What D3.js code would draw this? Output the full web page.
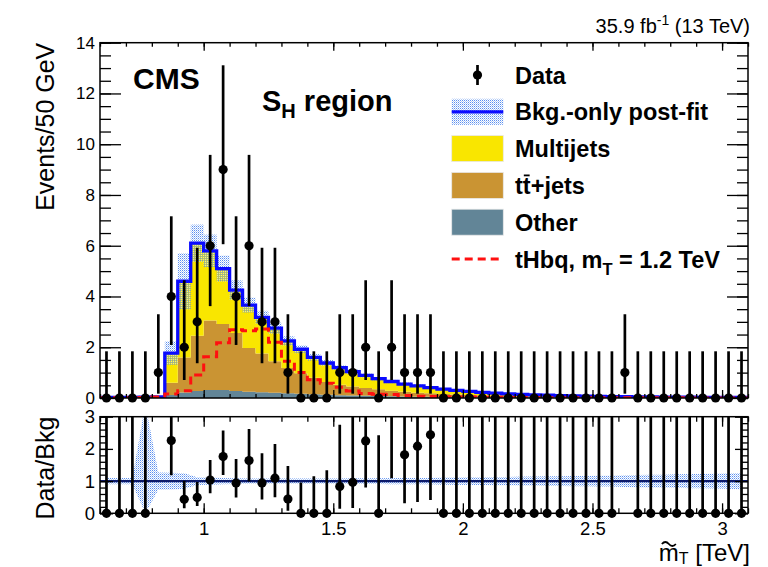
<!DOCTYPE html>
<html>
<head>
<meta charset="utf-8">
<script src="https://cdnjs.cloudflare.com/ajax/libs/d3/7.8.5/d3.min.js"></script>
<style>
body { margin: 0; background: #fff; }
svg { font-family: 'Liberation Sans', Arial, Helvetica, sans-serif; }
</style>
</head>
<body>
<svg width="768" height="567"></svg>
<script>
// bin centres (TeV), 50 GeV bins
var binCenters = [0.625, 0.675, 0.725, 0.775, 0.825, 0.875, 0.925, 0.975, 1.025, 1.075,
	1.125, 1.175, 1.225, 1.275, 1.325, 1.375, 1.425, 1.475, 1.525, 1.575,
	1.625, 1.675, 1.725, 1.775, 1.825, 1.875, 1.925, 1.975, 2.025, 2.075,
	2.125, 2.175, 2.225, 2.275, 2.325, 2.375, 2.425, 2.475, 2.525, 2.575,
	2.625, 2.675, 2.725, 2.775, 2.825, 2.875, 2.925, 2.975, 3.025, 3.075];

var dataCounts = [0, 0, 0, 0, 1, 4, 2, 3, 6, 9,
	4, 6, 3, 3, 1, 0, 0, 0, 1, 1,
	2, 0, 2, 1, 1, 1, 0, 0, 0, 0,
	0, 0, 0, 0, 0, 0, 0, 0, 0, 0,
	1, 0, 0, 0, 0, 0, 0, 0, 0, 0];

var otherBkg = [0.004, 0.004, 0.004, 0.005, 0.006, 0.12, 0.22, 0.28, 0.32, 0.32,
	0.28, 0.25, 0.23, 0.21, 0.19, 0.17, 0.15, 0.13, 0.11, 0.10,
	0.09, 0.08, 0.07, 0.06, 0.05, 0.045, 0.04, 0.035, 0.03, 0.027,
	0.024, 0.021, 0.018, 0.016, 0.014, 0.012, 0.011, 0.010, 0.009, 0.008,
	0.007, 0.006, 0.006, 0.005, 0.005, 0.004, 0.004, 0.004, 0.003, 0.003];

var ttbarBkg = [0.005, 0.005, 0.005, 0.006, 0.01, 0.48, 1.38, 2.17, 2.73, 2.6,
	2.28, 1.72, 1.52, 1.24, 0.99, 0.81, 0.65, 0.5, 0.41, 0.35,
	0.3, 0.26, 0.22, 0.19, 0.16, 0.14, 0.12, 0.1, 0.085, 0.072,
	0.062, 0.053, 0.046, 0.04, 0.035, 0.03, 0.027, 0.024, 0.021, 0.019,
	0.017, 0.015, 0.013, 0.012, 0.011, 0.01, 0.009, 0.008, 0.007, 0.006];

var multijetBkg = [0.011, 0.011, 0.011, 0.019, 0.024, 1.17, 3.0, 3.65, 2.75, 2.18,
	1.69, 1.69, 1.43, 1.3, 1.07, 0.94, 0.8, 0.75, 0.68, 0.59,
	0.5, 0.42, 0.36, 0.3, 0.27, 0.225, 0.19, 0.165, 0.145, 0.121,
	0.104, 0.091, 0.081, 0.069, 0.061, 0.053, 0.047, 0.041, 0.035, 0.031,
	0.028, 0.025, 0.022, 0.02, 0.017, 0.016, 0.014, 0.012, 0.012, 0.011];

// relative post-fit uncertainty of the total background
var bkgRelUnc = [0.1, 0.1, 0.1, 2.4, 0.27, 0.26, 0.24, 0.12, 0.11, 0.1,
	0.09, 0.08, 0.08, 0.08, 0.08, 0.08, 0.08, 0.08, 0.08, 0.09,
	0.09, 0.09, 0.1, 0.1, 0.1, 0.1, 0.11, 0.11, 0.12, 0.12,
	0.13, 0.13, 0.14, 0.14, 0.15, 0.15, 0.16, 0.16, 0.17, 0.17,
	0.18, 0.19, 0.2, 0.2, 0.21, 0.22, 0.22, 0.23, 0.24, 0.25];

var signalTHbq = [0.01, 0.01, 0.01, 0.02, 0.04, 0.16, 0.29, 0.91, 1.63, 2.18,
	2.69, 2.65, 2.72, 2.2, 1.45, 1.0, 0.72, 0.58, 0.42, 0.28,
	0.18, 0.15, 0.14, 0.1, 0.07, 0.06, 0.05, 0.04, 0.035, 0.03,
	0.026, 0.022, 0.019, 0.016, 0.014, 0.012, 0.011, 0.01, 0.009, 0.008,
	0.007, 0.006, 0.006, 0.005, 0.005, 0.004, 0.004, 0.004, 0.003, 0.003];

// Poisson (Garwood) 68% intervals, indexed by observed count
var poissonErrLo = [0, 0.83, 1.29, 1.63, 1.91, 2.16, 2.38, 2.58, 2.77, 2.94];
var poissonErrHi = [1.84, 2.30, 2.64, 2.92, 3.16, 3.38, 3.58, 3.77, 3.95, 4.11];

var xTickValues = [1, 1.5, 2, 2.5, 3];
var xTickLabels = ['1', '1.5', '2', '2.5', '3'];
var yMainTickValues = [0, 2, 4, 6, 8, 10, 12, 14];
var yRatioTickValues = [0, 1, 2, 3];
var legendLabels = ['Data', 'Bkg.-only post-fit', 'Multijets', 'tt+jets', 'Other', 'tHbq, m'];

var colors = {
	multijet: '#f9e600',
	ttbar: '#ca9433',
	other: '#628597',
	total: '#0a0aff',
	signal: '#ff1010'
};
var fontFamily = "'Liberation Sans', Arial, Helvetica, sans-serif";

var svg = d3.select('svg');
var defs = svg.append('defs');

// dotted fill used for the uncertainty band
var pat = defs.append('pattern')
	.attr('id', 'dots')
	.attr('width', 2)
	.attr('height', 2)
	.attr('patternUnits', 'userSpaceOnUse');
pat.append('rect').attr('x', 0).attr('y', 0).attr('width', 1).attr('height', 1).attr('fill', '#5a8ef0');
pat.append('rect').attr('x', 1).attr('y', 1).attr('width', 1).attr('height', 1).attr('fill', '#b3ccf6');

var left = 100, right = 748;
var mainTop = 42.7, mainBottom = 398;
var ratioTop = 416.7, ratioBottom = 513.3;

defs.append('clipPath').attr('id', 'clipMain').append('rect')
	.attr('x', left).attr('y', mainTop).attr('width', right - left).attr('height', mainBottom - mainTop);
defs.append('clipPath').attr('id', 'clipRatio').append('rect')
	.attr('x', left).attr('y', ratioTop).attr('width', right - left).attr('height', ratioBottom - ratioTop);

var x = d3.scaleLinear().domain([0.6, 3.1]).range([left, right]),
	yMain = d3.scaleLinear().domain([0, 14]).range([mainBottom, mainTop]),
	yRatio = d3.scaleLinear().domain([0, 3]).range([ratioBottom, ratioTop]);

var halfBin = (binCenters[1] - binCenters[0]) / 2;
var nBins = binCenters.length;

var rows = binCenters.map(function(c, i) {
	return { x: c, other: otherBkg[i], ttbar: ttbarBkg[i], multijet: multijetBkg[i] };
});
var totals = rows.map(function(d) {
	return d.other + d.ttbar + d.multijet;
});

// turn per-bin values into step points on the bin edges
function stepPoints(vals) {
	var pts = vals.map(function(v, i) {
		return { x: binCenters[i] - halfBin, v: v };
	});
	pts.push({ x: binCenters[nBins - 1] + halfBin, v: vals[nBins - 1] });
	return pts;
}

var gMain = svg.append('g').attr('clip-path', 'url(#clipMain)');

// stacked backgrounds
var series = d3.stack().keys(['other', 'ttbar', 'multijet'])(rows);
var stepArea = d3.area()
	.curve(d3.curveStepAfter)
	.x(function(d) { return x(d.x); })
	.y0(function(d) { return yMain(d.v[0]); })
	.y1(function(d) { return yMain(d.v[1]); });

series.forEach(function(s) {
	gMain.append('path')
		.datum(stepPoints(s.map(function(d) { return [d[0], d[1]]; })))
		.attr('fill', colors[s.key])
		.attr('d', stepArea);
});

// uncertainty band
gMain.selectAll('.band')
	.data(totals)
	.enter().append('rect')
	.attr('class', 'band')
	.attr('x', function(d, i) { return x(binCenters[i] - halfBin); })
	.attr('width', function(d, i) { return x(binCenters[i] + halfBin) - x(binCenters[i] - halfBin); })
	.attr('y', function(d, i) { return yMain(d * (1 + bkgRelUnc[i])); })
	.attr('height', function(d, i) {
		return yMain(Math.max(0, d * (1 - bkgRelUnc[i]))) - yMain(d * (1 + bkgRelUnc[i]));
	})
	.attr('fill', 'url(#dots)');

var stepLine = d3.line()
	.curve(d3.curveStepAfter)
	.x(function(d) { return x(d.x); })
	.y(function(d) { return yMain(d.v); });

gMain.append('path')
	.datum(stepPoints(totals))
	.attr('fill', 'none')
	.attr('stroke', colors.total)
	.attr('stroke-width', 3.3)
	.attr('d', stepLine);

gMain.append('path')
	.datum(stepPoints(signalTHbq))
	.attr('fill', 'none')
	.attr('stroke', colors.signal)
	.attr('stroke-width', 3)
	.attr('stroke-dasharray', '8,5')
	.attr('d', stepLine);

// data points
var gData = svg.append('g');
gData.selectAll('.err')
	.data(dataCounts)
	.enter().append('line')
	.attr('class', 'err')
	.attr('x1', function(d, i) { return x(binCenters[i]); })
	.attr('x2', function(d, i) { return x(binCenters[i]); })
	.attr('y1', function(d) { return yMain(d - poissonErrLo[d]); })
	.attr('y2', function(d) { return yMain(d + poissonErrHi[d]); })
	.attr('stroke', '#000')
	.attr('stroke-width', 2.7);
gData.selectAll('.pt')
	.data(dataCounts)
	.enter().append('circle')
	.attr('class', 'pt')
	.attr('cx', function(d, i) { return x(binCenters[i]); })
	.attr('cy', function(d) { return yMain(d); })
	.attr('r', 4.6)
	.attr('fill', '#000');

// ratio panel
var gRatio = svg.append('g').attr('clip-path', 'url(#clipRatio)');

var bandArea = d3.area()
	.x(function(d, i) { return x(binCenters[i]); })
	.y0(function(d) { return yRatio(Math.max(0, 1 - d)); })
	.y1(function(d) { return yRatio(1 + d); });

gRatio.append('path')
	.datum(bkgRelUnc)
	.attr('fill', 'url(#dots)')
	.attr('d', bandArea);

gRatio.append('line')
	.attr('x1', left).attr('x2', right)
	.attr('y1', yRatio(1)).attr('y2', yRatio(1))
	.attr('stroke', '#0c1a6a')
	.attr('stroke-width', 2.2);

var ratioPts = dataCounts.map(function(n, i) {
	var b = totals[i];
	return {
		x: binCenters[i],
		r: n / b,
		lo: (n - poissonErrLo[n]) / b,
		hi: (n + poissonErrHi[n]) / b
	};
});

gRatio.selectAll('.rerr')
	.data(ratioPts.filter(function(d) { return d.lo < 3; }))
	.enter().append('line')
	.attr('class', 'rerr')
	.attr('x1', function(d) { return x(d.x); })
	.attr('x2', function(d) { return x(d.x); })
	.attr('y1', function(d) { return yRatio(d.lo); })
	.attr('y2', function(d) { return yRatio(Math.min(d.hi, 3.2)); })
	.attr('stroke', '#000')
	.attr('stroke-width', 2.7);

svg.append('g').selectAll('.rpt')
	.data(ratioPts.filter(function(d) { return d.r <= 3; }))
	.enter().append('circle')
	.attr('class', 'rpt')
	.attr('cx', function(d) { return x(d.x); })
	.attr('cy', function(d) { return yRatio(d.r); })
	.attr('r', 4.6)
	.attr('fill', '#000');

// frames and ticks
function tickAxis(axis, transform) {
	var a = svg.append('g').attr('transform', transform).call(axis);
	a.select('.domain').remove();
	a.selectAll('line').attr('stroke', '#000').attr('stroke-width', 1.3);
	a.attr('font-family', fontFamily).attr('fill', '#000');
	a.selectAll('text').attr('fill', '#000');
	return a;
}

var xMinor = d3.range(0.6, 3.1001, 0.1);
var yMainMinor = d3.range(0, 14.001, 0.5);
var yRatioMinor = d3.range(0, 3.001, 0.2);

// main panel
tickAxis(d3.axisBottom(x).tickValues(xMinor).tickSize(-4).tickFormat(''), 'translate(0,' + mainBottom + ')');
tickAxis(d3.axisBottom(x).tickValues(xTickValues).tickSize(-8).tickFormat(''), 'translate(0,' + mainBottom + ')');
tickAxis(d3.axisTop(x).tickValues(xMinor).tickSize(-4).tickFormat(''), 'translate(0,' + mainTop + ')');
tickAxis(d3.axisTop(x).tickValues(xTickValues).tickSize(-8).tickFormat(''), 'translate(0,' + mainTop + ')');
tickAxis(d3.axisLeft(yMain).tickValues(yMainMinor).tickSize(-11).tickFormat(''), 'translate(' + left + ',0)');
tickAxis(d3.axisLeft(yMain).tickValues(yMainTickValues).tickSize(-21).tickPadding(5).tickFormat(d3.format('d')), 'translate(' + left + ',0)')
	.attr('font-size', 17);
tickAxis(d3.axisRight(yMain).tickValues(yMainMinor).tickSize(-11).tickFormat(''), 'translate(' + right + ',0)');
tickAxis(d3.axisRight(yMain).tickValues(yMainTickValues).tickSize(-21).tickFormat(''), 'translate(' + right + ',0)');

// ratio panel
tickAxis(d3.axisBottom(x).tickValues(xMinor).tickSize(-5).tickFormat(''), 'translate(0,' + ratioBottom + ')');
tickAxis(d3.axisBottom(x).tickValues(xTickValues).tickSize(-10).tickPadding(9)
	.tickFormat(function(d, i) { return xTickLabels[i]; }), 'translate(0,' + ratioBottom + ')')
	.attr('font-size', 18.5);
tickAxis(d3.axisTop(x).tickValues(xMinor).tickSize(-5).tickFormat(''), 'translate(0,' + ratioTop + ')');
tickAxis(d3.axisTop(x).tickValues(xTickValues).tickSize(-10).tickFormat(''), 'translate(0,' + ratioTop + ')');
tickAxis(d3.axisLeft(yRatio).tickValues(yRatioMinor).tickSize(-6).tickFormat(''), 'translate(' + left + ',0)');
tickAxis(d3.axisLeft(yRatio).tickValues(yRatioTickValues).tickSize(-13).tickPadding(5).tickFormat(d3.format('d')), 'translate(' + left + ',0)')
	.attr('font-size', 18.5);
tickAxis(d3.axisRight(yRatio).tickValues(yRatioMinor).tickSize(-6).tickFormat(''), 'translate(' + right + ',0)');
tickAxis(d3.axisRight(yRatio).tickValues(yRatioTickValues).tickSize(-13).tickFormat(''), 'translate(' + right + ',0)');

svg.append('rect')
	.attr('x', left).attr('y', mainTop)
	.attr('width', right - left).attr('height', mainBottom - mainTop)
	.attr('fill', 'none').attr('stroke', '#000').attr('stroke-width', 1.5);
svg.append('rect')
	.attr('x', left).attr('y', ratioTop)
	.attr('width', right - left).attr('height', ratioBottom - ratioTop)
	.attr('fill', 'none').attr('stroke', '#000').attr('stroke-width', 1.5);

// redraw points sitting on the main frame
gData.raise();

// axis titles
svg.append('text')
	.attr('transform', 'translate(54,' + mainTop + ') rotate(-90)')
	.attr('text-anchor', 'end')
	.attr('font-size', 25)
	.text('Events/50 GeV');
svg.append('text')
	.attr('transform', 'translate(54,' + ratioTop + ') rotate(-90)')
	.attr('text-anchor', 'end')
	.attr('font-size', 25)
	.text('Data/Bkg');

var titleY = 560.5;
var xt = svg.append('text')
	.attr('x', 750).attr('y', titleY)
	.attr('text-anchor', 'end')
	.attr('font-size', 24);
xt.append('tspan').text('m');
xt.append('tspan').attr('font-size', 16).attr('dy', 3).text('T');
xt.append('tspan').attr('dy', -3).text(' [TeV]');
var m0 = xt.node().getStartPositionOfChar(0).x,
	m1 = xt.node().getEndPositionOfChar(0).x;
var tw = (m1 - m0) * 0.7, tx = (m0 + m1) / 2 - tw / 2, ty = titleY - 18;
svg.append('path')
	.attr('d', 'M' + tx + ',' + (ty + 1.5) + ' q' + (tw / 4) + ',-4 ' + (tw / 2) + ',0 t' + (tw / 2) + ',0')
	.attr('fill', 'none').attr('stroke', '#000').attr('stroke-width', 1.8);

// header texts
var lumi = svg.append('text')
	.attr('x', 750).attr('y', 33)
	.attr('text-anchor', 'end')
	.attr('font-size', 20);
lumi.append('tspan').text('35.9 fb');
lumi.append('tspan').attr('font-size', 14).attr('dy', -8).text('-1');
lumi.append('tspan').attr('dy', 8).text(' (13 TeV)');

svg.append('text')
	.attr('x', 133).attr('y', 89)
	.attr('font-size', 30).attr('font-weight', 'bold')
	.text('CMS');

var reg = svg.append('text')
	.attr('x', 262).attr('y', 111)
	.attr('font-size', 29).attr('font-weight', 'bold');
reg.append('tspan').text('S');
reg.append('tspan').attr('font-size', 20).attr('dy', 7).text('H');
reg.append('tspan').attr('dy', -7).text(' region');

// legend
var legX0 = 451.7, legX1 = 503.3, legText = 515, legY0 = 75, legStep = 36.8;
var leg = svg.append('g').attr('font-size', 23.5).attr('font-weight', 'bold');
function rowY(i) { return legY0 + i * legStep; }

leg.append('line')
	.attr('x1', (legX0 + legX1) / 2).attr('x2', (legX0 + legX1) / 2)
	.attr('y1', rowY(0) - 10).attr('y2', rowY(0) + 10)
	.attr('stroke', '#000').attr('stroke-width', 2.7);
leg.append('circle')
	.attr('cx', (legX0 + legX1) / 2).attr('cy', rowY(0)).attr('r', 4.6).attr('fill', '#000');

leg.append('rect')
	.attr('x', legX0).attr('y', rowY(1) - 13).attr('width', legX1 - legX0).attr('height', 26)
	.attr('fill', 'url(#dots)');
leg.append('line')
	.attr('x1', legX0).attr('x2', legX1).attr('y1', rowY(1)).attr('y2', rowY(1))
	.attr('stroke', colors.total).attr('stroke-width', 3.3);

[colors.multijet, colors.ttbar, colors.other].forEach(function(c, k) {
	leg.append('rect')
		.attr('x', legX0).attr('y', rowY(k + 2) - 13).attr('width', legX1 - legX0).attr('height', 26)
		.attr('fill', c)
		.attr('stroke', '#e8e8e8').attr('stroke-width', 0.8);
});

leg.append('line')
	.attr('x1', legX0).attr('x2', legX1).attr('y1', rowY(5)).attr('y2', rowY(5))
	.attr('stroke', colors.signal).attr('stroke-width', 3).attr('stroke-dasharray', '8,5');

legendLabels.forEach(function(lab, i) {
	var t = leg.append('text').attr('x', legText).attr('y', rowY(i) + 8.5);
	if (i === 5) {
		t.append('tspan').text(lab);
		t.append('tspan').attr('font-size', 16.5).attr('dy', 7).text('T');
		t.append('tspan').attr('dy', -7).text(' = 1.2 TeV');
	} else {
		t.text(lab);
	}
	if (i === 3) {
		// bar over the second t
		var a = t.node().getStartPositionOfChar(1).x,
			b = t.node().getEndPositionOfChar(1).x;
		leg.append('line')
			.attr('x1', a + 1).attr('x2', b - 1)
			.attr('y1', rowY(i) + 8.5 - 18.5).attr('y2', rowY(i) + 8.5 - 18.5)
			.attr('stroke', '#000').attr('stroke-width', 1.8);
	}
});
</script>
</body>
</html>
